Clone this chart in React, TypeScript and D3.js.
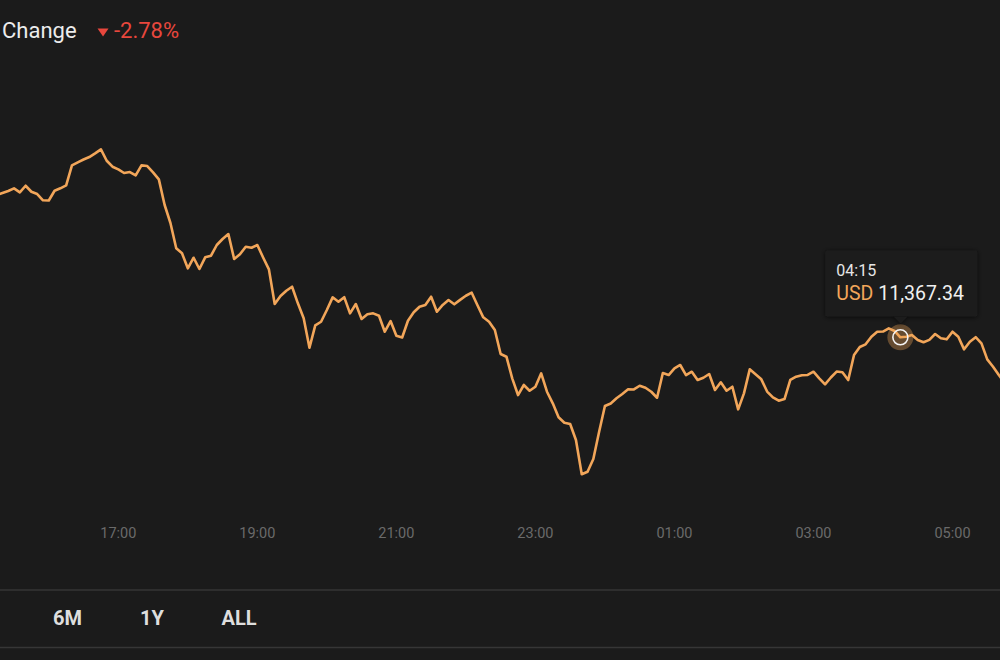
import React from "react";
import * as d3 from "d3";

// ---- data ----
const startTime = new Date(2020, 7, 18, 15, 15); // first sample, 5-minute interval
const intervalMinutes = 5;
const prices: number[] = [
  11616.4, 11619.9, 11623.4, 11628.1, 11621.1, 11632.6, 11622.1, 11618.1, 11607.1, 11606.8,
  11623.9, 11628.1, 11633.3, 11668.3, 11673.6, 11678.5, 11682.8, 11689.3, 11696.3, 11676.4,
  11665.9, 11661.3, 11654.9, 11656.6, 11650.8, 11668.3, 11667.1, 11656.1, 11643.8, 11598.9,
  11567.4, 11523.1, 11514.3, 11488.1, 11506.6, 11486.9, 11507.3, 11510.1, 11528.9, 11539.4,
  11548.1, 11504.4, 11512.6, 11525.9, 11524.1, 11528.9, 11507.0, 11486.3, 11425.6, 11439.6,
  11448.9, 11455.9, 11426.8, 11400.6, 11349.1, 11388.3, 11394.6, 11415.1, 11437.3, 11429.6,
  11437.6, 11409.3, 11425.6, 11399.4, 11407.6, 11409.3, 11405.1, 11377.1, 11395.8, 11370.1,
  11367.0, 11396.4, 11411.1, 11420.9, 11423.8, 11438.4, 11412.1, 11424.1, 11432.6, 11425.1,
  11432.9, 11440.1, 11445.4, 11423.5, 11402.3, 11394.6, 11380.1, 11338.1, 11333.4, 11295.6,
  11266.3, 11283.9, 11273.9, 11280.9, 11304.3, 11272.1, 11251.8, 11227.3, 11217.9, 11215.6,
  11187.6, 11127.6, 11132.1, 11154.3, 11202.1, 11247.1, 11251.5, 11260.6, 11268.1, 11276.3,
  11276.1, 11282.6, 11279.1, 11272.1, 11261.6, 11304.8, 11301.3, 11313.1, 11318.9, 11301.3,
  11307.1, 11292.6, 11296.6, 11303.1, 11275.1, 11288.6, 11273.9, 11280.9, 11241.3, 11269.3,
  11311.3, 11302.6, 11293.8, 11272.4, 11262.3, 11256.4, 11259.3, 11292.9, 11298.4, 11301.0,
  11301.5, 11307.1, 11295.6, 11285.1, 11297.0, 11307.4, 11306.1, 11292.6, 11336.3, 11350.4,
  11355.1, 11368.4, 11377.1, 11377.4, 11383.1, 11378.4, 11367.34, 11368.4, 11371.4, 11362.6,
  11358.6, 11362.9, 11373.1, 11365.6, 11363.8, 11377.1, 11368.4, 11346.3, 11359.6, 11367.6,
  11356.8, 11328.8, 11315.9, 11301.3, 11287.3,
];
const tickLabels = ["17:00", "19:00", "21:00", "23:00", "01:00", "03:00", "05:00"];
const hoverLabel = "04:15";
const changeLabel = "Change";
const changeValue = "-2.78%";
const currency = "USD";
const rangeButtons = ["6M", "1Y", "ALL"];

// ---- styles ----
const W = 1000;
const H = 660;
const BG = "#1b1b1b";
const LINE = "#f2a65a";
const RED = "#e8473d";
const FONT = "Roboto, 'Noto Sans', sans-serif";

export default function App() {
  const data = prices.map((p, i) => ({
    t: new Date(startTime.getTime() + i * intervalMinutes * 60000),
    v: p,
  }));
  const fmtTime = d3.timeFormat("%H:%M");

  const x = d3
    .scaleTime()
    .domain([new Date(2020, 7, 18, 17, 0), new Date(2020, 7, 19, 5, 0)])
    .range([118.3, 952.5]);
  const y = d3.scaleLinear().domain([11000, 11800]).range([547.2, 90.1]);

  const line = d3
    .line<{ t: Date; v: number }>()
    .x((d) => x(d.t))
    .y((d) => y(d.v));

  const allHours = d3.timeHour.range(new Date(2020, 7, 18, 16, 0), new Date(2020, 7, 19, 6, 0));
  const ticks = allHours.filter((t) => tickLabels.includes(fmtTime(t)));
  const hover = data.find((d) => fmtTime(d.t) === hoverLabel)!;
  const hx = x(hover.t);
  const hy = y(hover.v);
  const fmtVal = d3.format(",.2f");

  const boxW = 152;
  const boxH = 66;
  const boxX = hx - 75;
  const boxY = hy - 21 - boxH;

  return (
    <div style={{ position: "fixed", left: 0, top: 0, width: W, height: H, background: BG }}>
      <svg width={W} height={H} style={{ display: "block", fontFamily: FONT }}>
        <defs>
          <filter id="shadow" x="-20%" y="-30%" width="140%" height="160%">
            <feDropShadow dx="0" dy="1" stdDeviation="2.5" floodColor="#000" floodOpacity="0.7" />
          </filter>
          <clipPath id="clip">
            <rect x={0} y={0} width={W} height={585} />
          </clipPath>
        </defs>
        <rect x={0} y={0} width={W} height={H} fill={BG} />

        {/* header */}
        <text x={2} y={37.5} fill="#ececec" fontSize={22}>
          {changeLabel}
        </text>
        <path d="M97.5,28.5 L108.5,28.5 L103,36.5 Z" fill={RED} />
        <text x={114} y={37.5} fill={RED} fontSize={22}>
          {changeValue}
        </text>

        {/* line */}
        <g clipPath="url(#clip)">
          <path
            d={line(data) || ""}
            fill="none"
            stroke={LINE}
            strokeWidth={2.6}
            strokeLinejoin="round"
            strokeLinecap="round"
          />
        </g>

        {/* axis labels */}
        {ticks.map((t, i) => (
          <text
            key={i}
            x={x(t)}
            y={538}
            textAnchor="middle"
            fill="#6a6a6a"
            fontSize={14.5}
          >
            {fmtTime(t)}
          </text>
        ))}

        {/* hover marker */}
        <circle cx={hx} cy={hy} r={13} fill={LINE} fillOpacity={0.35} />
        <circle cx={hx} cy={hy} r={7.5} fill="none" stroke="#f4f4f4" strokeWidth={1.6} />

        {/* tooltip */}
        <g filter="url(#shadow)">
          <rect x={boxX} y={boxY} width={boxW} height={boxH} rx={2} fill="#1e1e1e" />
          <path
            d={`M${hx - 7},${boxY + boxH} L${hx},${boxY + boxH + 7} L${hx + 7},${boxY + boxH} Z`}
            fill="#1e1e1e"
          />
        </g>
        <text x={boxX + 11} y={boxY + 26} fill="#e6e6e6" fontSize={16}>
          {fmtTime(hover.t)}
        </text>
        <text x={boxX + 11} y={boxY + 50} fontSize={19.5}>
          <tspan fill={LINE}>{currency}</tspan>
          <tspan fill="#f0f0f0"> {fmtVal(hover.v)}</tspan>
        </text>

        {/* range selector */}
        <line x1={0} x2={W} y1={590} y2={590} stroke="#363636" strokeWidth={1.5} />
        <line x1={0} x2={W} y1={647.5} y2={647.5} stroke="#363636" strokeWidth={1.5} />
        {rangeButtons.map((b, i) => (
          <text
            key={b}
            x={[67.5, 152, 239][i]}
            y={625}
            textAnchor="middle"
            fill="#dedede"
            fontSize={20}
            fontWeight={700}
          >
            {b}
          </text>
        ))}
      </svg>
    </div>
  );
}
